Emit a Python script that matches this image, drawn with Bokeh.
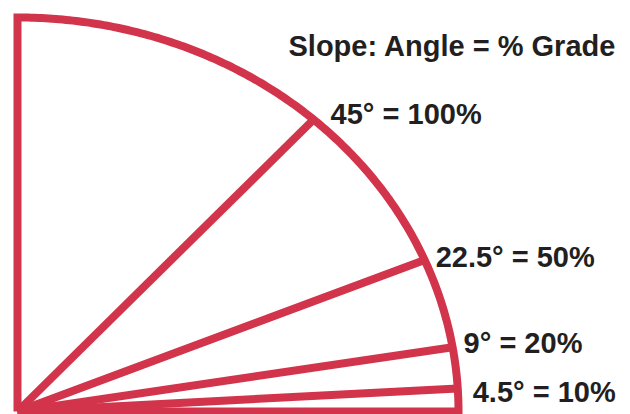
import numpy as np
from bokeh.plotting import figure
from bokeh.models import ColumnDataSource, Range1d
from bokeh.core.properties import value
from bokeh.embed import file_html
from bokeh.resources import INLINE

# ---- data ----
title_text = "Slope: Angle = % Grade"
angle_deg = [45, 22.5, 9, 4.5]          # stated slope angles
grade_pct = [100, 50, 20, 10]           # stated percent grades
drawn_angle_deg = [44.6, 20.4, 8.4, 3.0]  # angles of the rays as drawn in the picture
labels = [f"{a:g}\u00b0 = {g}%" for a, g in zip(angle_deg, grade_pct)]

# ---- layout / style ----
RX, RY = 441.0, 394.0                   # quarter-ellipse radii (screen units)
label_dx = [17, 11, 11, 15]
label_dy = [6, 3, 4, -4]
RED = "#D2344B"
INK = "#231F20"
FONT = "Liberation Sans"
LW = 8

p = figure(width=630, height=414, output_backend="svg", toolbar_location=None,
           x_range=Range1d(-17, 613), y_range=Range1d(-3, 411),
           min_border=0, outline_line_color=None)
p.axis.visible = False
p.grid.visible = False
p.background_fill_color = "white"
p.border_fill_color = "white"

# outline: vertical edge, arc, bottom edge
t = np.linspace(np.pi / 2, 0, 200)
ox = np.concatenate([[0, 0], RX * np.cos(t), [RX, 0]])
oy = np.concatenate([[0, RY], RY * np.sin(t), [0, 0]])
p.line(ox, oy, line_color=RED, line_width=LW, line_join="miter")

# rays
a = np.radians(drawn_angle_deg)
r = 1.0 / np.sqrt((np.cos(a) / RX) ** 2 + (np.sin(a) / RY) ** 2)
ex = r * np.cos(a)
ey = r * np.sin(a)
p.multi_line(xs=[[0, x] for x in ex], ys=[[0, y] for y in ey],
             line_color=RED, line_width=LW, line_cap="butt")

# labels
src = ColumnDataSource(dict(x=ex + np.array(label_dx), y=ey + np.array(label_dy), text=labels))
p.text(x="x", y="y", text="text", source=src, text_font=value(FONT),
       text_font_style="bold", text_font_size="29px", text_color=INK,
       text_align="left", text_baseline="alphabetic")

p.text(x=[271], y=[366], text=[title_text], text_font=value(FONT),
       text_font_style="bold", text_font_size="29px", text_color=INK,
       text_align="left", text_baseline="alphabetic")

open("out.html", "w").write(file_html(p, INLINE))
